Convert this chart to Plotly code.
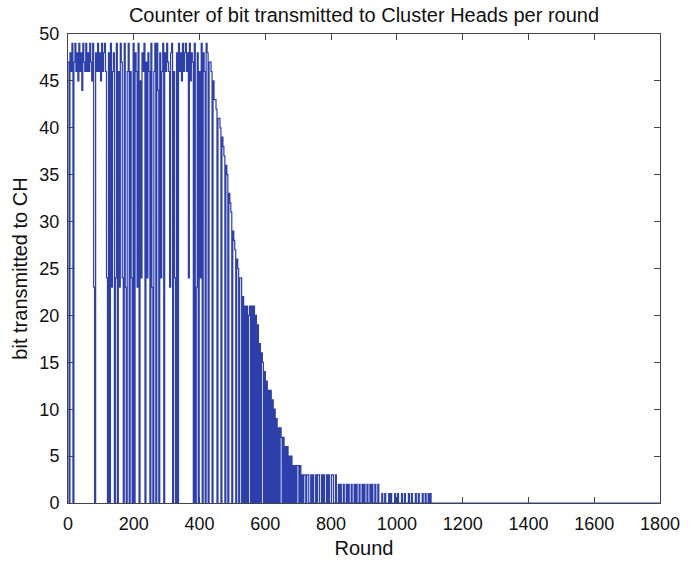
import plotly.graph_objects as go

# Round sampled every 3 rounds from 0 to 1110, then the final round 1800
round_step = 3
round_last_active = 1110
round_end = 1800

bits_to_ch = [
    # rounds 0-417
    47, 0, 48, 46, 49, 0, 47, 49, 46, 48,
    45, 49, 46, 48, 44, 49, 47, 46, 49, 46,
    48, 46, 49, 47, 45, 49, 23, 0, 48, 46,
    49, 46, 48, 45, 49, 46, 48, 49, 46, 24,
    0, 48, 0, 49, 23, 46, 48, 0, 24, 49,
    0, 46, 23, 49, 47, 24, 0, 49, 23, 0,
    46, 49, 0, 46, 24, 0, 49, 0, 48, 46,
    23, 49, 0, 45, 24, 48, 46, 49, 0, 47,
    24, 48, 46, 0, 49, 23, 0, 46, 49, 0,
    49, 44, 0, 48, 24, 46, 49, 0, 48, 46,
    49, 47, 46, 23, 48, 49, 0, 46, 24, 0,
    48, 0, 49, 46, 48, 45, 49, 46, 48, 49,
    46, 48, 24, 49, 45, 48, 47, 0, 49, 0,
    23, 48, 0, 46, 24, 49, 0, 48, 46, 0,
    # rounds 420-717 (decline)
    49, 48, 0, 47, 47, 46, 0, 45, 43, 43,
    42, 0, 41, 41, 40, 0, 39, 38, 37, 0,
    36, 35, 0, 33, 32, 31, 0, 29, 28, 27,
    0, 26, 25, 0, 24, 24, 0, 22, 0, 21,
    0, 21, 0, 20, 21, 0, 21, 0, 21, 0,
    20, 0, 19, 0, 17, 0, 16, 15, 0, 14,
    0, 13, 0, 12, 0, 12, 0, 11, 0, 10,
    0, 9, 0, 8, 0, 8, 7, 0, 7, 0,
    6, 0, 6, 0, 5, 0, 5, 0, 4, 0,
    4, 0, 4, 4, 0, 4, 0, 3, 0, 3,
    # rounds 720-1110 (tail)
    3, 0, 3, 3, 0, 0, 3, 0, 3, 0,
    0, 3, 0, 3, 3, 0, 0, 3, 0, 3,
    0, 0, 3, 0, 3, 0, 0, 3, 3, 0,
    0, 3, 0, 0, 2, 0, 2, 0, 0, 2,
    0, 0, 2, 0, 2, 0, 0, 2, 0, 0,
    2, 0, 2, 0, 0, 2, 0, 0, 2, 0,
    2, 0, 0, 2, 0, 0, 2, 0, 2, 0,
    0, 2, 0, 0, 2, 0, 0, 0, 1, 0,
    0, 1, 0, 0, 0, 1, 0, 1, 0, 0,
    0, 1, 0, 0, 1, 0, 0, 0, 1, 0,
    0, 1, 0, 0, 0, 1, 0, 0, 1, 0,
    0, 0, 1, 0, 0, 1, 0, 0, 0, 1,
    0, 0, 1, 0, 0, 1, 0, 1, 0, 0,
    0,
    # round 1800
    0,
]

rounds = list(range(0, round_last_active + 1, round_step)) + [round_end]

x_ticks = [0, 200, 400, 600, 800, 1000, 1200, 1400, 1600, 1800]
y_ticks = [0, 5, 10, 15, 20, 25, 30, 35, 40, 45, 50]

title_text = "Counter of bit transmitted to Cluster Heads per round"
x_title = "Round"
y_title = "bit transmitted to CH"

font_family = "Liberation Sans, Arial, sans-serif"
line_color = "#2d3fab"
axis_color = "#444444"

fig = go.Figure()
fig.add_trace(go.Scatter(
    x=rounds, y=bits_to_ch, mode="lines",
    line=dict(color=line_color, width=1.2, shape="hv"),
    showlegend=False,
))

axis_common = dict(
    showline=True, linecolor=axis_color, linewidth=1, mirror="ticks",
    ticks="inside", ticklen=6, tickcolor=axis_color, tickwidth=1,
    showgrid=False, zeroline=False,
    tickfont=dict(family=font_family, size=18, color="#111111"),
    ticklabeloverflow="allow",
    layer="below traces",
)

fig.update_layout(
    width=692, height=568,
    margin=dict(l=68, r=19, t=34, b=58),
    paper_bgcolor="white", plot_bgcolor="white",
    title=dict(text=title_text, x=0.5, xref="paper", xanchor="center",
               y=1 - 15 / 568, yref="container", yanchor="middle",
               font=dict(family=font_family, size=20, color="#111111")),
    xaxis=dict(range=[0, 1800], tickvals=x_ticks, ticklabelstandoff=4,
               title=dict(text=x_title, standoff=8,
                          font=dict(family=font_family, size=20, color="#111111")),
               **axis_common),
    yaxis=dict(range=[0, 50], tickvals=y_ticks, ticklabelstandoff=4,
               title=dict(text=y_title, standoff=6,
                          font=dict(family=font_family, size=20, color="#111111")),
               **axis_common),
)

fig.write_html("out.html")
